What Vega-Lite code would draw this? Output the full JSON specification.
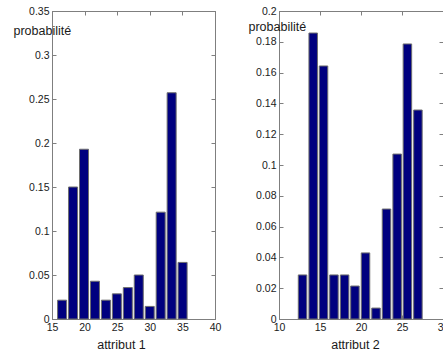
{
  "$schema": "https://vega.github.io/schema/vega-lite/v6.json",
  "padding": {"left": 12, "top": 5, "right": 0, "bottom": 0},
  "background": "white",
  "config": {
    "font": "Liberation Sans",
    "view": {"stroke": "#7f7f7f"},
    "axis": {
      "grid": false,
      "labelFlush": false,
      "labelOverlap": false,
      "domainColor": "#7f7f7f",
      "tickColor": "#7f7f7f",
      "tickSize": -4,
      "labelPadding": 7,
      "labelFont": "Liberation Sans",
      "labelFontSize": 10.5,
      "labelColor": "#1a1a1a",
      "titleFont": "Liberation Sans",
      "titleFontSize": 12.5,
      "titleFontWeight": "normal",
      "titleColor": "#1a1a1a"
    }
  },
  "datasets": {
    "a1": [
      {"attribut": 16.55, "probabilite": 0.0214},
      {"attribut": 18.23, "probabilite": 0.15},
      {"attribut": 19.91, "probabilite": 0.1929},
      {"attribut": 21.59, "probabilite": 0.0429},
      {"attribut": 23.27, "probabilite": 0.0214},
      {"attribut": 24.95, "probabilite": 0.0286},
      {"attribut": 26.63, "probabilite": 0.0357},
      {"attribut": 28.31, "probabilite": 0.05},
      {"attribut": 29.99, "probabilite": 0.0143},
      {"attribut": 31.67, "probabilite": 0.1214},
      {"attribut": 33.35, "probabilite": 0.2571},
      {"attribut": 35.03, "probabilite": 0.0643}
    ],
    "a2": [
      {"attribut": 12.87, "probabilite": 0.0286},
      {"attribut": 14.17, "probabilite": 0.1857},
      {"attribut": 15.43, "probabilite": 0.1643},
      {"attribut": 16.7, "probabilite": 0.0286},
      {"attribut": 18.0, "probabilite": 0.0286},
      {"attribut": 19.26, "probabilite": 0.0214},
      {"attribut": 20.55, "probabilite": 0.0429},
      {"attribut": 21.83, "probabilite": 0.0071},
      {"attribut": 23.11, "probabilite": 0.0714},
      {"attribut": 24.41, "probabilite": 0.1071},
      {"attribut": 25.66, "probabilite": 0.1786},
      {"attribut": 26.94, "probabilite": 0.1357}
    ]
  },
  "hconcat": [
    {
      "width": 163,
      "height": 308,
      "data": {"name": "a1"},
      "layer": [
        {
          "mark": {"type": "bar", "size": 9, "color": "#00007f", "stroke": "#6e6e6e", "strokeWidth": 1},
          "encoding": {
            "x": {"field": "attribut", "type": "quantitative",
              "scale": {"domain": [15, 40], "nice": false, "zero": false, "padding": 0},
              "axis": {"values": [15, 20, 25, 30, 35, 40], "labelFlush": false, "title": "attribut 1", "titleX": 69, "titleY": 29, "titleBaseline": "alphabetic"}},
            "y": {"field": "probabilite", "type": "quantitative",
              "scale": {"domain": [0, 0.35], "nice": false, "padding": 0},
              "axis": {"values": [0, 0.05, 0.1, 0.15, 0.2, 0.25, 0.3, 0.35], "labelFlush": false, "format": "~g", "title": "probabilité",
                "titleAngle": 0, "titleAlign": "left", "titleBaseline": "alphabetic", "titleX": -39, "titleY": 23}}
          }
        },
        {
          "mark": {"type": "bar", "size": 9, "opacity": 0},
          "encoding": {
            "x": {"field": "attribut", "type": "quantitative",
              "axis": {"orient": "top", "values": [15, 20, 25, 30, 35, 40], "labels": false, "title": null}},
            "y": {"field": "probabilite", "type": "quantitative",
              "axis": {"orient": "right", "values": [0, 0.05, 0.1, 0.15, 0.2, 0.25, 0.3, 0.35], "labels": false, "title": null}}
          }
        }
      ],
      "resolve": {"axis": {"x": "independent", "y": "independent"}}
    },
    {
      "width": 164,
      "height": 308,
      "data": {"name": "a2"},
      "layer": [
        {
          "mark": {"type": "bar", "size": 8.5, "color": "#00007f", "stroke": "#6e6e6e", "strokeWidth": 1},
          "encoding": {
            "x": {"field": "attribut", "type": "quantitative",
              "scale": {"domain": [10, 30], "nice": false, "zero": false, "padding": 0},
              "axis": {"values": [10, 15, 20, 25, 30], "labelFlush": false, "title": "attribut 2", "titleX": 76, "titleY": 29, "titleBaseline": "alphabetic"}},
            "y": {"field": "probabilite", "type": "quantitative",
              "scale": {"domain": [0, 0.2], "nice": false, "padding": 0},
              "axis": {"values": [0, 0.02, 0.04, 0.06, 0.08, 0.1, 0.12, 0.14, 0.16, 0.18, 0.2], "labelFlush": false, "format": "~g", "title": "probabilité",
                "titleAngle": 0, "titleAlign": "left", "titleBaseline": "alphabetic", "titleX": -31, "titleY": 19}}
          }
        },
        {
          "mark": {"type": "bar", "size": 8.5, "opacity": 0},
          "encoding": {
            "x": {"field": "attribut", "type": "quantitative",
              "axis": {"orient": "top", "values": [10, 15, 20, 25, 30], "labels": false, "title": null}},
            "y": {"field": "probabilite", "type": "quantitative",
              "axis": {"orient": "right", "values": [0, 0.02, 0.04, 0.06, 0.08, 0.1, 0.12, 0.14, 0.16, 0.18, 0.2], "labels": false, "title": null}}
          }
        }
      ],
      "resolve": {"axis": {"x": "independent", "y": "independent"}}
    }
  ],
  "spacing": 64,
  "bounds": "flush"
}
